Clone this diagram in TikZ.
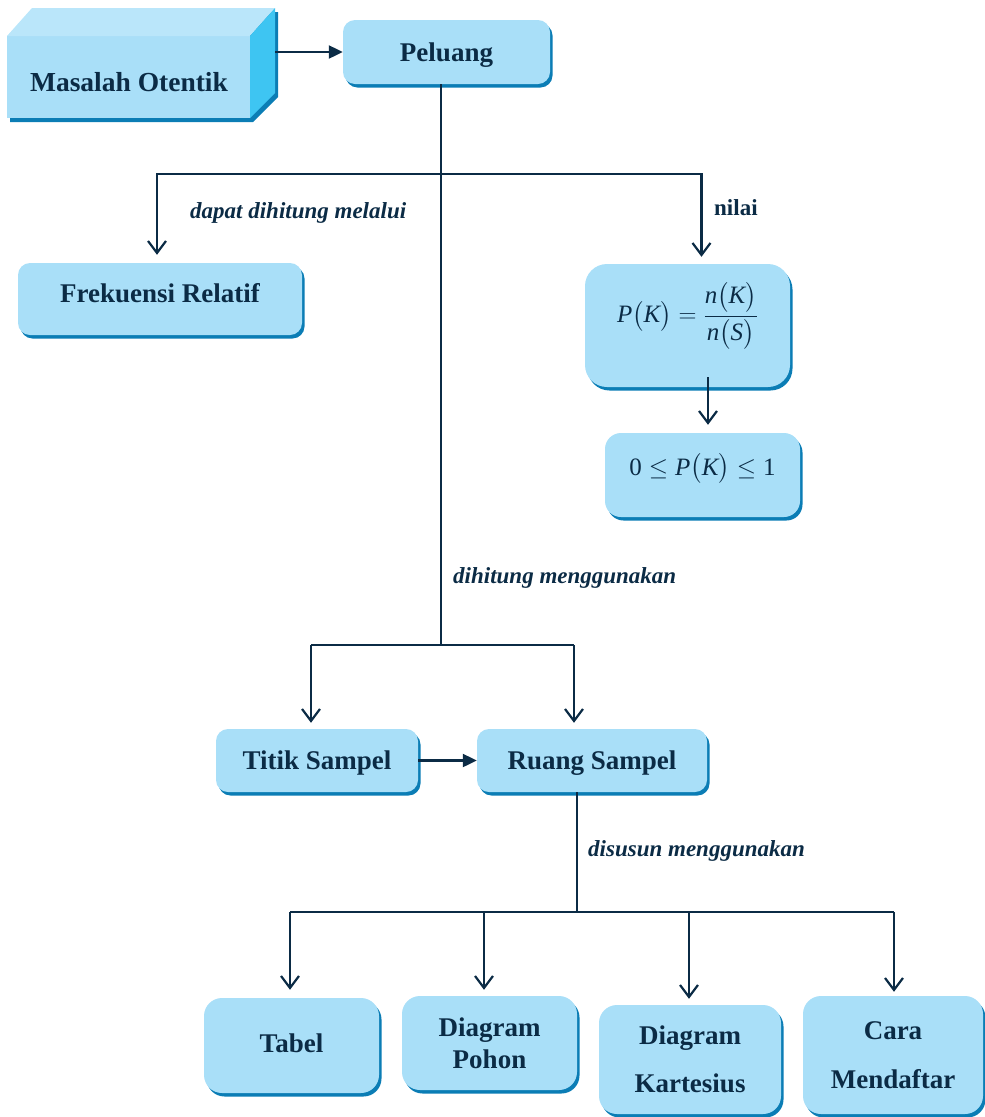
\documentclass[tikz,border=0pt]{standalone}
\usepackage{amsmath}
\usepackage{fontspec}
\setmainfont{Liberation Serif}
\usetikzlibrary{arrows.meta,shadows,calc}
\definecolor{boxfill}{HTML}{A9DFF8}
\definecolor{boxshadow}{HTML}{0B7DB5}
\definecolor{ink}{HTML}{0B2B45}
\definecolor{topface}{HTML}{BAE6FA}
\definecolor{sideface}{HTML}{3EC5F2}
\newcommand\vi[1]{\text{\normalfont\itshape #1}}
\newcommand\vn[1]{\text{\normalfont #1}}
\begin{document}
\begin{tikzpicture}[x=1pt,y=-1pt,
  box/.style={rectangle, rounded corners=12pt, fill=boxfill, text=ink,
    font=\fontsize{27}{32.4}\selectfont\bfseries,
    drop shadow={shadow xshift=2.5pt,shadow yshift=-3.5pt,fill=boxshadow,opacity=1},
    inner sep=0pt, align=center, text height=19pt, text depth=1pt},
  box2/.style={box, rounded corners=18pt, text height=, text depth=},
  mathbox/.style={box, font=\fontsize{25}{30}\selectfont},
  line/.style={draw=ink, line width=2.2pt},
  arr/.style={line, -{Straight Barb[length=12pt,width=18pt]}},
  tri/.style={line, -{Triangle[length=14pt,width=13pt]}},
  lbl/.style={inner sep=0pt, text=ink, font=\fontsize{23}{27}\selectfont\bfseries\itshape},
  lblup/.style={inner sep=0pt, text=ink, font=\fontsize{23}{27}\selectfont\bfseries}
]
\useasboundingbox (0,0) rectangle (985,1117);

% 3D box "Masalah Otentik"
\begin{scope}[shift={(3,4)}]
  \fill[boxshadow] (7,36) -- (32,8) -- (275,8) -- (275,93) -- (250,118) -- (7,118) -- cycle;
\end{scope}
\fill[boxfill] (7,36) rectangle (250,118);
\fill[topface] (7,36) -- (32,8) -- (275,8) -- (250,36) -- cycle;
\fill[sideface] (250,36) -- (275,8) -- (275,93) -- (250,118) -- cycle;
\node[inner sep=0pt, text=ink, font=\fontsize{27.5}{33}\selectfont\bfseries] (masalah) at (129,82) {Masalah Otentik};
\coordinate (mright) at (275,52);

% boxes
\node[box, minimum width=207pt, minimum height=64pt] (peluang) at (446.5,52) {Peluang};
\node[box, minimum width=284pt, minimum height=72pt, text depth=13pt] (frek) at (160,299) {Frekuensi Relatif};
\node[mathbox, rounded corners=22pt, minimum width=205pt, minimum height=123pt, text height=10pt, text depth=16.5pt] (formula) at (687.5,325.5)
  {$\vi{P}\bigl(\vi{K}\bigr)=\dfrac{\vi{n}\bigl(\vi{K}\bigr)}{\vi{n}\bigl(\vi{S}\bigr)}$};
\node[mathbox, rounded corners=16pt, minimum width=195pt, minimum height=84pt, text height=10pt, text depth=10pt] (ineq) at (702.5,475)
  {$\vn{0}\le \vi{P}\bigl(\vi{K}\bigr)\le \vn{1}$};
\node[box, minimum width=202pt, minimum height=63pt] (titik) at (317,760.5) {Titik Sampel};
\node[box, minimum width=230pt, minimum height=63pt] (ruang) at (592,760.5) {Ruang Sampel};
\node[box, rounded corners=18pt, minimum width=175pt, minimum height=95pt, text depth=6pt] (tabel) at (291.5,1045.5) {Tabel};
\node[box2, minimum width=175pt, minimum height=94pt] (pohon) at (489.5,1043) {Diagram\\Pohon};
\node[box2, minimum width=182pt, minimum height=109pt] (kart) at (690,1059.5) {Diagram\\[15.6pt]Kartesius};
\node[box2, minimum width=180pt, minimum height=118pt] (cara) at (893,1055) {Cara\\[16pt]Mendaftar};

% connectors
\draw[tri] (mright) -- (peluang.west);
\coordinate (jtop) at (441,174);
\coordinate (jmid) at (441,645);
\coordinate (jbot) at (577,912);
\draw[line] (peluang.south -| jtop) -- (jmid);
\draw[arr, shorten >=8pt] (jtop) -| ($(frek.north)+(-3,0)$);
\draw[arr, shorten >=7pt] (jtop) -| ($(formula.north)+(14,0)$);
\draw[arr, shorten >=8pt] ($(formula.south)+(20.5,-10)$) -- ($(ineq.north)+(5.5,0)$);

\coordinate (tl) at (311,645);
\coordinate (tr) at (574,645);
\draw[line] (tl) -- (tr);
\draw[arr, shorten >=6pt] (tl) -- (tl |- titik.north);
\draw[arr, shorten >=6pt] (tr) -- (tr |- ruang.north);
\draw[tri] (titik.east) -- (ruang.west);

\draw[line] (ruang.south -| jbot) -- (jbot);
\coordinate (b1) at (290,912);
\coordinate (b2) at (484,912);
\coordinate (b3) at (689,912);
\coordinate (b4) at (894,912);
\draw[line] (b1) -- (b4);
\draw[arr, shorten >=8pt] (b1) -- (b1 |- tabel.north);
\draw[arr, shorten >=6pt] (b2) -- (b2 |- pohon.north);
\draw[arr, shorten >=6pt] (b3) -- (b3 |- kart.north);
\draw[arr, shorten >=4pt] (b4) -- (b4 |- cara.north);

% labels
\node[lbl, anchor=base west] (l1) at (190,218) {dapat dihitung melalui};
\node[lblup, anchor=base west] (l2) at (714,215) {nilai};
\node[lbl, anchor=base west] (l3) at (453,583) {dihitung menggunakan};
\node[lbl, anchor=base west] (l4) at (588,856) {disusun menggunakan};
\end{tikzpicture}
\end{document}
